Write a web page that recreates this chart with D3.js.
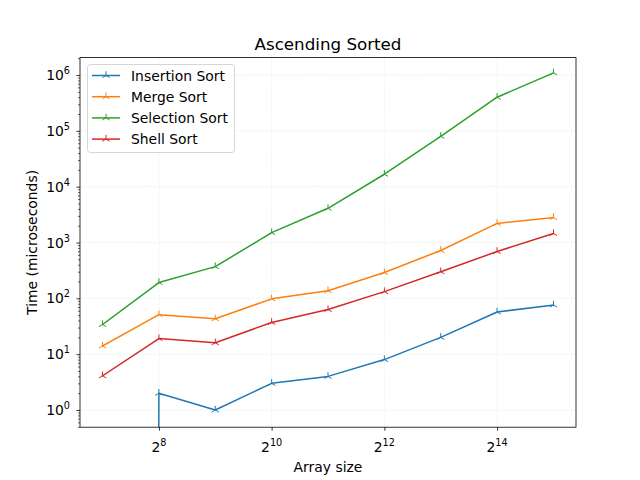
<!DOCTYPE html>
<html><head><meta charset="utf-8">
<script src="https://cdn.jsdelivr.net/npm/d3@7"></script>
<style>body{margin:0;background:#fff}svg{font-family:"DejaVu Sans",sans-serif}</style>
</head><body>
<script>
const sizes = [128, 256, 512, 1024, 2048, 4096, 8192, 16384, 32768];
const insertion = [0, 2, 1, 3, 4, 8, 20, 57, 76];
const merge = [14, 51, 43, 98, 137, 290, 720, 2200, 2800];
const selection = [34, 192, 370, 1500, 4100, 16700, 80000, 400000, 1090000];
const shell = [4.1, 19, 16, 37, 63, 132, 300, 690, 1450];
const seriesNames = ["Insertion Sort", "Merge Sort", "Selection Sort", "Shell Sort"];
const seriesColors = ["#1f77b4", "#ff7f0e", "#2ca02c", "#d62728"];
const xTickExps = [8, 10, 12, 14];
const yTickExps = [0, 1, 2, 3, 4, 5, 6];

const W = 640, H = 480;
const L = 80, R = 576, T = 57.6, B = 427.2;
const svg = d3.select("body").append("svg").attr("width", W).attr("height", H);

const x = d3.scaleLog().base(2).domain([Math.pow(2, 6.6), Math.pow(2, 15.4)]).range([L, R]);
const y = d3.scaleLog().domain([Math.pow(10, -0.308), Math.pow(10, 6.312)]).range([B, T]);

// grid
const grid = svg.append("g");
xTickExps.forEach(e => {
  grid.append("line").attr("x1", x(2 ** e)).attr("x2", x(2 ** e)).attr("y1", T).attr("y2", B)
    .attr("stroke", "green").attr("stroke-opacity", 0.1).attr("stroke-width", 0.8).attr("stroke-dasharray", "3,1.3");
});
yTickExps.forEach(e => {
  grid.append("line").attr("y1", y(10 ** e)).attr("y2", y(10 ** e)).attr("x1", L).attr("x2", R)
    .attr("stroke", "green").attr("stroke-opacity", 0.1).attr("stroke-width", 0.8).attr("stroke-dasharray", "3,1.3");
});

// clip
svg.append("clipPath").attr("id", "clip").append("rect").attr("x", L).attr("y", T).attr("width", R - L).attr("height", B - T);

const all = [insertion, merge, selection, shell];
const line = d3.line().x(d => x(d[0])).y(d => y(d[1] > 0 ? d[1] : 1e-300));
const tri = (s) => `M0,0L0,${-s}M0,0L${-s * 0.866},${s * 0.5}M0,0L${s * 0.866},${s * 0.5}`;
const plot = svg.append("g").attr("clip-path", "url(#clip)");
all.forEach((vals, i) => {
  const pts = sizes.map((s, j) => [s, vals[j]]);
  plot.append("path").attr("d", line(pts)).attr("fill", "none").attr("stroke", seriesColors[i])
    .attr("stroke-width", 1.5).attr("stroke-linejoin", "round").attr("stroke-linecap", "square");
  plot.selectAll(null).data(pts.filter(p => p[1] > 0)).enter().append("path")
    .attr("transform", p => `translate(${x(p[0])},${y(p[1])})`)
    .attr("d", tri(4.2)).attr("stroke", seriesColors[i]).attr("stroke-width", 1).attr("fill", "none");
});

// axes frame
svg.append("rect").attr("x", L).attr("y", T).attr("width", R - L).attr("height", B - T)
  .attr("fill", "none").attr("stroke", "#000").attr("stroke-width", 0.8);

// x ticks
const xAxis = d3.axisBottom(x).tickValues(xTickExps.map(e => 2 ** e)).tickSize(3.5).tickFormat("");
const gx = svg.append("g").attr("transform", `translate(0,${B})`).call(xAxis);
gx.select(".domain").remove();
gx.selectAll(".tick line").attr("stroke-width", 0.8);
xTickExps.forEach(e => {
  const t = svg.append("text").attr("x", x(2 ** e)).attr("y", B + 25).attr("text-anchor", "middle")
    .attr("font-size", 13.9).attr("fill", "#000");
  t.append("tspan").text("2");
  t.append("tspan").attr("dy", -6).attr("font-size", 9.7).text(e);
});

// y ticks major
const yAxis = d3.axisLeft(y).tickValues(yTickExps.map(e => 10 ** e)).tickSize(3.5).tickFormat("");
const gy = svg.append("g").attr("transform", `translate(${L},0)`).call(yAxis);
gy.select(".domain").remove();
gy.selectAll(".tick line").attr("stroke-width", 0.8);
// minor
const minors = [];
for (let e = -1; e <= 6; e++) for (let k = 2; k <= 9; k++) {
  const v = k * 10 ** e;
  if (y(v) <= B && y(v) >= T) minors.push(v);
}
const gym = svg.append("g").attr("transform", `translate(${L},0)`)
  .call(d3.axisLeft(y).tickValues(minors).tickSize(2).tickFormat(""));
gym.select(".domain").remove();
gym.selectAll(".tick line").attr("stroke-width", 0.6);
yTickExps.forEach(e => {
  const t = svg.append("text").attr("x", L - 10).attr("y", y(10 ** e) + 5).attr("text-anchor", "end")
    .attr("font-size", 13.9).attr("fill", "#000");
  t.append("tspan").text("10");
  t.append("tspan").attr("dy", -6).attr("font-size", 9.7).text(e);
});

// labels
svg.append("text").attr("x", (L + R) / 2).attr("y", 50).attr("text-anchor", "middle").attr("font-size", 16.7).text("Ascending Sorted");
svg.append("text").attr("x", (L + R) / 2).attr("y", 472).attr("text-anchor", "middle").attr("font-size", 13.9).text("Array size");
svg.append("text").attr("transform", `translate(37,${(T + B) / 2}) rotate(-90)`).attr("text-anchor", "middle").attr("font-size", 13.9).text("Time (microseconds)");

// legend
const lg = svg.append("g");
lg.append("rect").attr("x", 87.5).attr("y", 64.5).attr("width", 147).attr("height", 88).attr("rx", 3)
  .attr("fill", "#fff").attr("fill-opacity", 0.8).attr("stroke", "#ccc").attr("stroke-width", 0.8);
seriesNames.forEach((n, i) => {
  const yy = 75.5 + i * 21.2;
  lg.append("line").attr("x1", 92).attr("x2", 120).attr("y1", yy).attr("y2", yy).attr("stroke", seriesColors[i]).attr("stroke-width", 1.5);
  lg.append("path").attr("transform", `translate(106,${yy})`).attr("d", tri(4.2)).attr("stroke", seriesColors[i]).attr("fill", "none");
  lg.append("text").attr("x", 131).attr("y", yy + 5).attr("font-size", 13.9).text(n);
});
</script>
</body></html>
